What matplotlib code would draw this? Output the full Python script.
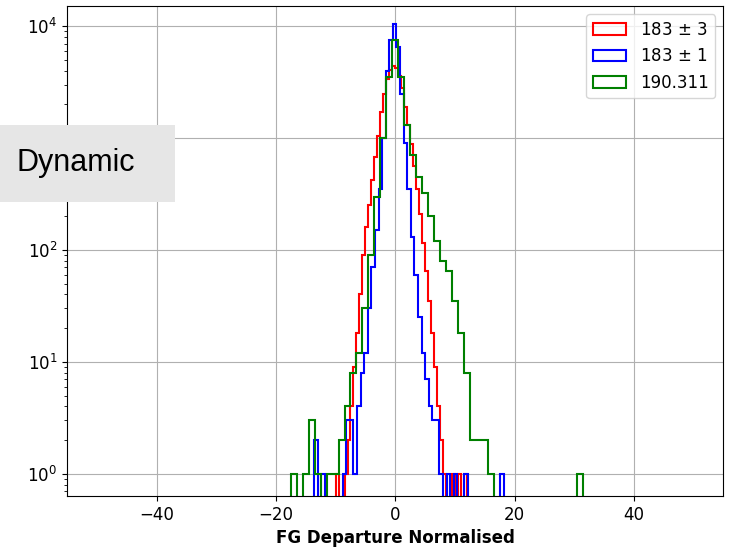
import numpy as np
import matplotlib
matplotlib.use("Agg")
import matplotlib.pyplot as plt
from matplotlib.patches import Rectangle

# histogram counts (one list per channel)
labels = ["183 $\\pm$ 3", "183 $\\pm$ 1", "190.311"]
colors = ["r", "b", "g"]

# 183 +- 3 : bins of 0.5 from -10 to 12
red_edges = np.arange(-10.0, 12.01, 0.5)
red_counts = [1, 0, 0, 1, 2, 4, 9, 18, 40, 90,
              160, 250, 420, 680, 1050, 1700, 2500, 3400, 4100, 4400,
              4200, 3600, 2800, 1900, 1300, 880, 560, 350, 210, 115,
              65, 35, 18, 9, 4, 2, 1, 0, 0, 1,
              0, 1, 0, 1]

# 183 +- 1 : bins of 0.6 from -13.6 to 18.2
blue_edges = np.arange(-13.6, 18.21, 0.6)
blue_counts = [2, 0, 1, 0, 0, 0, 0, 0, 1, 3,
               3, 1, 4, 8, 12, 30, 70, 150, 350, 1000,
               4000, 7500, 10500, 6500, 2500, 900, 350, 130, 60, 25,
               12, 7, 4, 3, 3, 1, 0, 1, 0, 1,
               0, 0, 1, 0, 0, 0, 0, 0, 0, 0,
               0, 0, 1]

# 190.311 : bins of 1.0 from -17.5 to 31.5
green_edges = np.arange(-17.5, 31.51, 1.0)
green_counts = [1, 0, 1, 3, 1, 0, 1, 1, 2, 4,
                8, 12, 30, 90, 300, 1000, 3500, 7500, 3500, 1300,
                700, 450, 320, 200, 120, 80, 65, 35, 18, 8,
                2, 2, 2, 1, 0, 0, 0, 0, 0, 0,
                0, 0, 0, 0, 0, 0, 0, 0, 1]

edges = [red_edges, blue_edges, green_edges]
counts = [red_counts, blue_counts, green_counts]

fig = plt.figure(figsize=(7.31, 5.5), dpi=100)
ax = fig.add_axes([0.0917, 0.098, 0.898, 0.891])

for e, c, col, lab in zip(edges, counts, colors, labels):
    mids = 0.5 * (e[:-1] + e[1:])
    ax.hist(mids, bins=e, weights=c, histtype="step", log=True,
            color=col, linewidth=1.5, label=lab)

ax.set_xlim(-55, 55)
ax.set_ylim(10 ** -0.2, 10 ** 4.18)
ax.set_xticks([-40, -20, 0, 20, 40])
ax.tick_params(labelsize=12)
ax.grid(True)
ax.set_xlabel("FG Departure Normalised", fontsize=12, fontweight="bold")
ax.legend(loc="upper right", fontsize=12)

# grey label box over the left edge
fig.patches.append(Rectangle((0, 0.6327), 0.2394, 0.14, transform=fig.transFigure,
                             facecolor="#e6e6e6", edgecolor="none", zorder=5))
fig.text(0.023, 0.7036, "Dynamic", fontsize=22, family="Liberation Sans",
         va="center", ha="left", zorder=6)

fig.savefig("out.png", dpi=100)
